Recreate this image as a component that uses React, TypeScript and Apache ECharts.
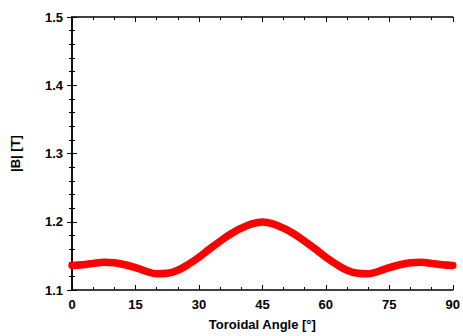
import React, { useEffect, useRef } from "react";
import * as echarts from "echarts";

const angles = [0, 2.5, 5, 7.5, 10, 12.5, 15, 17.5, 20, 22.5, 25, 27.5, 30, 32.5, 35, 37.5, 40, 42.5, 45,
  47.5, 50, 52.5, 55, 57.5, 60, 62.5, 65, 67.5, 70, 72.5, 75, 77.5, 80, 82.5, 85, 87.5, 90];
const bValues = [1.136, 1.137, 1.139, 1.1405, 1.1398, 1.137, 1.1328, 1.1275, 1.1238, 1.1245, 1.129, 1.1375, 1.148, 1.160, 1.1715, 1.182, 1.1905, 1.1968, 1.1995,
  1.1968, 1.1905, 1.182, 1.1715, 1.160, 1.148, 1.1375, 1.129, 1.1245, 1.1238, 1.1275, 1.1328, 1.137, 1.1398, 1.1405, 1.139, 1.137, 1.136];

const FONT = "'Liberation Sans', Arial, sans-serif";

export default function App() {
  const ref = useRef<HTMLDivElement>(null);
  useEffect(() => {
    if (!ref.current) return;
    const chart = echarts.init(ref.current, null, { renderer: "svg" });
    const axisLine = { show: true, lineStyle: { color: "#000", width: 1.5 } };
    const tick = { show: true, inside: true, length: 5, lineStyle: { color: "#000", width: 1 } };
    const minor = (n: number) => ({ show: true, splitNumber: n, length: 3, lineStyle: { color: "#000", width: 1 } });
    const label = { fontFamily: FONT, fontWeight: "bold" as const, fontSize: 13, color: "#000" };
    chart.setOption({
      animation: false,
      grid: { left: 72, right: 10, top: 17, bottom: 42 },
      xAxis: [
        {
          type: "value", min: 0, max: 90, interval: 15, position: "bottom",
          name: "Toroidal Angle [°]", nameLocation: "middle", nameGap: 28,
          nameTextStyle: { ...label },
          axisLine, axisTick: tick, minorTick: minor(3), splitLine: { show: false },
          axisLabel: { ...label, margin: 8 },
        },
        {
          type: "value", min: 0, max: 90, interval: 15, position: "top",
          axisLine, axisTick: tick, minorTick: minor(3), splitLine: { show: false },
          axisLabel: { show: false },
        },
      ],
      yAxis: [
        {
          type: "value", min: 1.1, max: 1.5, interval: 0.1, position: "left",
          name: "|B| [T]", nameLocation: "middle", nameGap: 50,
          nameTextStyle: { ...label },
          axisLine, axisTick: tick, minorTick: minor(5), splitLine: { show: false },
          axisLabel: { ...label, margin: 9, formatter: (v: number) => v.toFixed(1) },
        },
        {
          type: "value", min: 1.1, max: 1.5, interval: 0.1, position: "right",
          axisLine, axisTick: tick, minorTick: minor(5), splitLine: { show: false },
          axisLabel: { show: false },
        },
      ],
      series: [
        {
          type: "line",
          data: angles.map((a, i) => [a, bValues[i]]),
          smooth: 0.4,
          showSymbol: false,
          lineStyle: { color: "#ff0000", width: 7.5, cap: "round", join: "round" },
          xAxisIndex: 0,
          yAxisIndex: 0,
        },
      ],
    });
    return () => chart.dispose();
  }, []);
  return <div ref={ref} style={{ width: 463, height: 336, position: "absolute", left: 0, top: 0, background: "#fff" }} />;
}
